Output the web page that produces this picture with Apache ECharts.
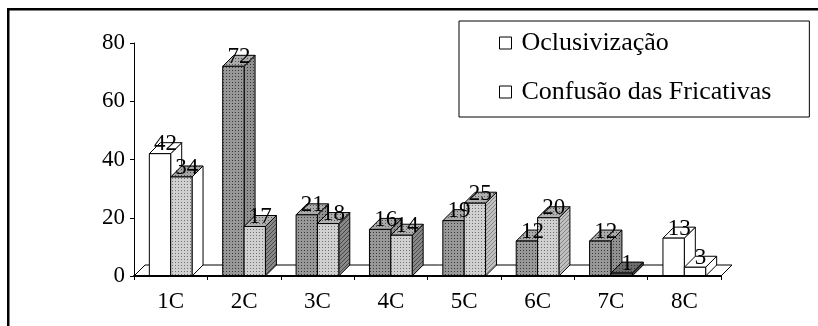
<!DOCTYPE html>
<html>
<head>
<meta charset="utf-8">
<script src="https://cdn.jsdelivr.net/npm/echarts@6/dist/echarts.min.js"></script>
<style>
  html, body { margin: 0; padding: 0; background: #fff; }
  #chart { width: 818px; height: 326px; }
</style>
</head>
<body>
<div id="chart"></div>
<script>
// Values per class
const categories = ['1C', '2C', '3C', '4C', '5C', '6C', '7C', '8C'];
const oclusivizacao = [42, 72, 21, 16, 19, 12, 12, 13];
const confusaoFricativas = [34, 17, 18, 14, 25, 20, 1, 3];
const yTickValues = [0, 20, 40, 60, 80];

const SERIES_NAMES = ['Oclusivização', 'Confusão das Fricativas'];
const SERIF = '"Liberation Serif", "Times New Roman", serif';

// Pseudo-3D box geometry: depth offset and bar width as share of the band
const DX = 11, DY = -11;
const BAR_FRAC = 0.291;

// Small tiled fills giving the printed dot / hatch look
function dotTile(bg, dot) {
  const c = document.createElement('canvas');
  c.width = 3; c.height = 3;
  const g = c.getContext('2d');
  g.fillStyle = bg; g.fillRect(0, 0, 3, 3);
  g.fillStyle = dot; g.fillRect(1, 1, 1, 1);
  return { image: c, repeat: 'repeat' };
}
function hatchTile(bg, line) {
  const c = document.createElement('canvas');
  c.width = 4; c.height = 4;
  const g = c.getContext('2d');
  g.fillStyle = bg; g.fillRect(0, 0, 4, 4);
  g.fillStyle = line;
  for (let k = 0; k < 4; k++) g.fillRect(k, 3 - k, 1, 1);
  return { image: c, repeat: 'repeat' };
}

const WHITE = { front: '#ffffff', side: '#ffffff', top: '#ffffff' };
const DARK = { front: dotTile('#989898', '#383838'), side: dotTile('#909090', '#383838'), top: dotTile('#aaaaaa', '#555555') };
const LIGHT_FRONT = dotTile('#d0d0d0', '#707070');
const LIGHT_W = { front: LIGHT_FRONT, side: '#ffffff', top: dotTile('#a4a4a4', '#4a4a4a') };
const LIGHT_D = { front: LIGHT_FRONT, side: hatchTile('#888888', '#4a4a4a'), top: dotTile('#b0b0b0', '#5a5a5a') };
const LIGHT_H = { front: LIGHT_FRONT, side: hatchTile('#c0c0c0', '#858585'), top: dotTile('#b0b0b0', '#5a5a5a') };
const BLACKISH = { front: '#555555', side: '#4a4a4a', top: dotTile('#6a6a6a', '#333333') };

const facesOclus = [WHITE, DARK, DARK, DARK, DARK, DARK, DARK, WHITE];
const facesConf = [LIGHT_W, LIGHT_D, LIGHT_D, LIGHT_D, LIGHT_H, LIGHT_H, BLACKISH, WHITE];

function boxSeries(name, values, faces, side) {
  return {
    type: 'custom',
    name: name,
    z: 2,
    data: values.map((v, i) => [i, v]),
    encode: { x: 0, y: 1 },
    itemStyle: { color: '#ffffff', borderColor: '#000000', borderWidth: 1 },
    renderItem: function (params, api) {
      const i = api.value(0), v = api.value(1);
      const top = api.coord([i, v]);
      const base = api.coord([i, 0]);
      const band = api.size([1, 0])[0];
      const bw = band * BAR_FRAC;
      const x0 = side < 0 ? top[0] - bw : top[0];
      const x1 = x0 + bw;
      const yt = top[1], yb = base[1];
      const f = faces[params.dataIndex];
      const st = (fill) => ({ fill: fill, stroke: '#000000', lineWidth: 1 });
      return {
        type: 'group',
        children: [
          { type: 'polygon', shape: { points: [[x1, yb], [x1 + DX, yb + DY], [x1 + DX, yt + DY], [x1, yt]] }, style: st(f.side) },
          { type: 'polygon', shape: { points: [[x0, yt], [x0 + DX, yt + DY], [x1 + DX, yt + DY], [x1, yt]] }, style: st(f.top) },
          { type: 'rect', shape: { x: x0, y: yt, width: bw, height: yb - yt }, style: st(f.front) },
          {
            type: 'text', z2: 100,
            style: {
              text: String(v), x: (x0 + x1) / 2 + DX / 2, y: yt - 9.5,
              align: 'center', verticalAlign: 'middle',
              font: '23px ' + SERIF, fill: '#000000'
            }
          }
        ]
      };
    }
  };
}

// Floor plane under all the boxes
const floorSeries = {
  type: 'custom',
  z: 1,
  silent: true,
  data: [[0, 0]],
  encode: { x: 0, y: 1 },
  renderItem: function (params, api) {
    const band = api.size([1, 0])[0];
    const l = api.coord([0, 0]);
    const r = api.coord([categories.length - 1, 0]);
    const xL = l[0] - band / 2, xR = r[0] + band / 2, y = l[1];
    return {
      type: 'polygon',
      shape: { points: [[xL, y], [xL + DX, y + DY], [xR + DX, y + DY], [xR, y]] },
      style: { fill: '#ffffff', stroke: '#000000', lineWidth: 1 }
    };
  }
};

const chart = echarts.init(document.getElementById('chart'), null, { renderer: 'canvas' });
chart.setOption({
  animation: false,
  backgroundColor: '#ffffff',
  grid: { left: 134, top: 43, width: 587, height: 233 },
  graphic: [
    { type: 'rect', shape: { x: 7, y: 8, width: 811, height: 2.5 }, style: { fill: '#000000' }, silent: true },
    { type: 'rect', shape: { x: 7, y: 8, width: 2.5, height: 318 }, style: { fill: '#000000' }, silent: true }
  ],
  legend: {
    data: SERIES_NAMES,
    orient: 'vertical',
    left: 459,
    top: 21,
    padding: [9, 38, 12, 40],
    itemGap: 23,
    itemWidth: 12,
    itemHeight: 12,
    icon: 'rect',
    borderColor: '#000000',
    borderWidth: 1,
    selectedMode: false,
    itemStyle: { color: '#ffffff', borderColor: '#000000', borderWidth: 1 },
    textStyle: { fontFamily: SERIF, fontSize: 26, color: '#000000', padding: [0, 0, 0, 5] }
  },
  xAxis: {
    type: 'category',
    data: categories,
    z: 10,
    axisLine: { show: true, lineStyle: { color: '#000000', width: 2 } },
    axisTick: { show: true, length: 4, lineStyle: { color: '#000000' } },
    axisLabel: { fontFamily: SERIF, fontSize: 23, color: '#000000', margin: 14 },
    splitLine: { show: false }
  },
  yAxis: {
    type: 'value',
    min: yTickValues[0],
    max: yTickValues[yTickValues.length - 1],
    interval: yTickValues[1] - yTickValues[0],
    axisLine: { show: true, lineStyle: { color: '#000000', width: 1 } },
    axisTick: { show: true, length: 4, lineStyle: { color: '#000000' } },
    axisLabel: { fontFamily: SERIF, fontSize: 23, color: '#000000', margin: 9 },
    splitLine: { show: false }
  },
  series: [
    floorSeries,
    boxSeries(SERIES_NAMES[0], oclusivizacao, facesOclus, -1),
    boxSeries(SERIES_NAMES[1], confusaoFricativas, facesConf, 1)
  ]
});
</script>
</body>
</html>
